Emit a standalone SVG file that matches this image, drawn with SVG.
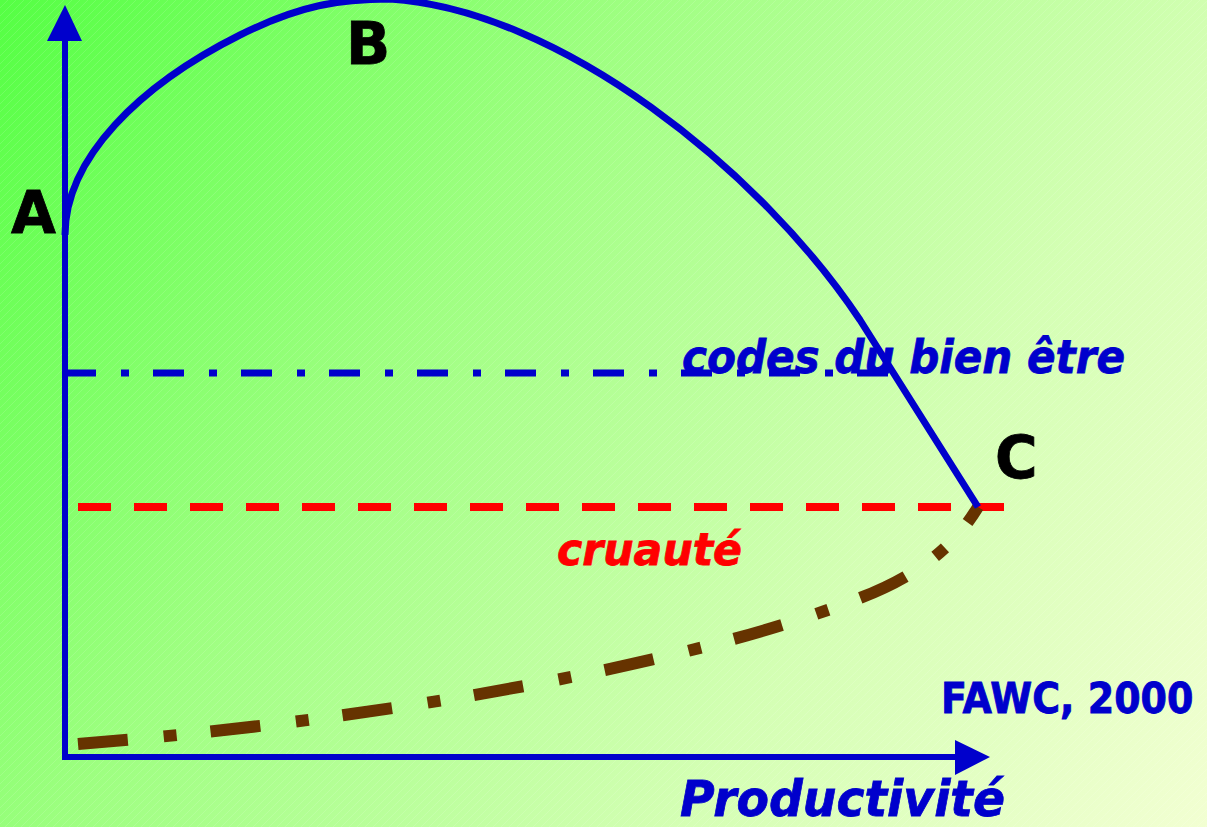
<svg xmlns="http://www.w3.org/2000/svg" width="1207" height="827" viewBox="0 0 1207 827">
<defs>
<linearGradient id="bg" x1="0" y1="0" x2="1207" y2="827" gradientUnits="userSpaceOnUse">
<stop offset="0" stop-color="#55ff44"/>
<stop offset="0.35" stop-color="#9dff80"/>
<stop offset="0.7" stop-color="#d4ffb4"/>
<stop offset="1" stop-color="#f2ffd2"/>
</linearGradient>
<pattern id="hatch" width="8" height="8" patternUnits="userSpaceOnUse">
<path d="M-2,10 L10,-2" stroke="#ffffff" stroke-opacity="0.12" stroke-width="1"/>
</pattern>
<style>
.ax{stroke:#0000cc;stroke-width:6;fill:none}
.curve{stroke:#0000cc;stroke-width:7;fill:none;stroke-linejoin:round}
.lbl{font-family:"DejaVu Sans","Liberation Sans",sans-serif;font-weight:bold;stroke-width:0.8}
.it{font-style:italic}
.blk{fill:#000000;stroke:#000000;font-size:58px}
.blue{fill:#0000cc;stroke:#0000cc}
.red{fill:#ff0000;stroke:#ff0000}
</style>
</defs>
<rect x="0" y="0" width="1207" height="827" fill="url(#bg)"/>
<rect x="0" y="0" width="1207" height="827" fill="url(#hatch)"/>
<g id="connectors">
<path id="cruaute-line" d="M78,507 L1004,507" stroke="#ff0000" stroke-width="8" stroke-dasharray="33 23" fill="none"/>
<path id="brown-curve" d="M78,744 C380,720 690,665 860,598 C920,575 955,545 978,507" stroke="#663300" stroke-width="12" stroke-dasharray="50 36 13 34" fill="none"/>
<path id="codes-line" d="M65,373 L890,373" stroke="#0000cc" stroke-width="7" stroke-dasharray="31 25 8 24" fill="none"/>
</g>
<g id="label-codes"><text class="lbl it blue" x="682" y="373" font-size="46" textLength="443" lengthAdjust="spacingAndGlyphs">codes du bien être</text></g>
<g id="label-cruaute"><text class="lbl it red" x="557" y="565" font-size="44" textLength="185" lengthAdjust="spacingAndGlyphs">cruauté</text></g>
<g id="label-fawc"><text class="lbl blue" x="0" y="0" font-size="38" transform="translate(941,713) scale(1,1.1)">FAWC, 2000</text></g>
<g id="label-productivite"><text class="lbl it blue" x="680" y="816" font-size="50" textLength="325" lengthAdjust="spacingAndGlyphs">Productivité</text></g>
<g id="curve-ABC">
<path class="curve" d="M65,235 C65,158 140,85 240,35 C300,5 340,-1 390,-1 C560,10 760,170 860,320 L978,507"/>
</g>
<g id="axes">
<path class="ax" d="M65,760 L65,38"/>
<path d="M47,41 L65,5 L82,41 Z" fill="#0000cc"/>
<path class="ax" d="M62,757 L958,757"/>
<path d="M955,740 L990,757 L955,775 Z" fill="#0000cc"/>
</g>
<g id="node-A"><text class="lbl blk" x="11" y="233">A</text></g>
<g id="node-B"><text class="lbl blk" x="346" y="64">B</text></g>
<g id="node-C"><text class="lbl blk" x="995" y="478">C</text></g>
</svg>
